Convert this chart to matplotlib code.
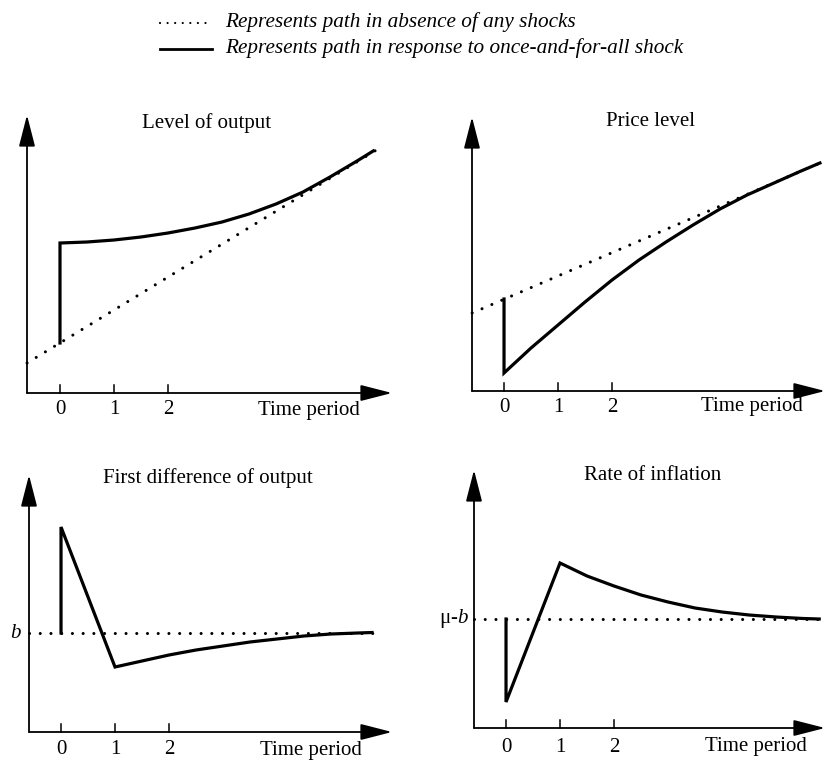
import matplotlib
matplotlib.use("Agg")
import matplotlib.pyplot as plt

plt.rcParams["font.family"] = ["Liberation Serif", "DejaVu Serif"]
plt.rcParams["mathtext.fontset"] = "custom"
plt.rcParams["mathtext.rm"] = "Liberation Serif"
plt.rcParams["mathtext.it"] = "Liberation Serif:italic"

W, H = 826, 760

# ---- data ----
tick_pos = [0, 1, 2]
tick_labels = ["0", "1", "2"]

# Level of output
lvl_trend_t = [-0.61, 5.89]
lvl_trend_y = [3.0, 24.4]
lvl_shock_t = [0, 0, 0.5, 1, 1.5, 2, 2.5, 3, 3.5, 4, 4.5, 5, 5.5, 5.8]
lvl_shock_y = [5.0, 15.0, 15.1, 15.3, 15.6, 16.0, 16.5, 17.1, 17.9, 18.9, 20.1, 21.6, 23.2, 24.2]

# Price level
price_trend_t = [-0.59, 5.85]
price_trend_y = [7.8, 22.8]
price_shock_t = [0, 0, 0.5, 1, 1.5, 2, 2.5, 3, 3.5, 4, 4.5, 5, 5.5, 5.85]
price_shock_y = [9.2, 1.8, 4.3, 6.6, 8.9, 11.1, 13.1, 14.9, 16.6, 18.2, 19.6, 20.8, 22.0, 22.8]

# First difference of output
diff_trend_t = [-0.59, 5.81]
diff_trend_y = [9.9, 9.9]
diff_shock_t = [0, 0, 1, 1.5, 2, 2.5, 3, 3.5, 4, 4.5, 5, 5.5, 5.76]
diff_shock_y = [9.9, 20.5, 6.5, 7.1, 7.7, 8.2, 8.6, 9.0, 9.3, 9.6, 9.8, 9.9, 9.95]

# Rate of inflation
infl_trend_t = [-0.59, 5.8]
infl_trend_y = [10.9, 10.9]
infl_shock_t = [0, 0, 1, 1.5, 2, 2.5, 3, 3.5, 4, 4.5, 5, 5.5, 5.8]
infl_shock_y = [10.9, 2.6, 16.5, 15.2, 14.2, 13.3, 12.6, 12.0, 11.6, 11.3, 11.1, 10.95, 10.9]

fig = plt.figure(figsize=(W / 100, H / 100), dpi=100)

dotted = dict(color="k", lw=2.2, linestyle=(0, (0.01, 3.5)), dash_capstyle="round")
solid = dict(color="k", lw=2.3, solid_joinstyle="miter")


def make_panel(box, xlim, ylim, title, title_y, label_y, tp_x):
    # box = left, top, right, bottom in pixels
    l, t, r, b = box
    ax = fig.add_axes([l / W, 1 - b / H, (r - l) / W, (b - t) / H])
    ax.set_xlim(xlim)
    ax.set_ylim(ylim)
    ax.axis("off")
    arrow = dict(arrowstyle="-|>,head_length=1.95,head_width=0.5", mutation_scale=10,
                 lw=1.3, color="k", shrinkA=0, shrinkB=0)
    ax.annotate("", xy=(0, 1), xytext=(0, 0), xycoords="axes fraction", arrowprops=arrow)
    ax.annotate("", xy=(1, 0), xytext=(0, 0), xycoords="axes fraction", arrowprops=arrow)
    for tp, tl in zip(tick_pos, tick_labels):
        ax.plot([tp, tp], [0, 0.8], color="k", lw=1.1, clip_on=False)
        ax.text(tp, label_y, tl, ha="center", va="center", fontsize=15)
    ax.text(tp_x, label_y, "Time period", ha="right", va="center", fontsize=15)
    ax.text(2.72, title_y, title, ha="center", va="center", fontsize=15)
    return ax


ax1 = make_panel((27, 115, 392, 393), (-0.611, 6.148), (0, 27.8), "Level of output", 27.0, -1.7, 5.56)
ax1.plot(lvl_trend_t, lvl_trend_y, **dotted, clip_on=False)
ax1.plot(lvl_shock_t, lvl_shock_y, **solid, clip_on=False)

ax2 = make_panel((472, 117, 825, 391), (-0.593, 5.944), (0, 27.4), "Price level", 26.9, -1.6, 5.54)
ax2.plot(price_trend_t, price_trend_y, **dotted, clip_on=False)
ax2.plot(price_shock_t, price_shock_y, **solid, clip_on=False)

ax3 = make_panel((29, 475, 392, 732), (-0.593, 6.13), (0, 25.7), "First difference of output", 25.4, -1.8, 5.57)
ax3.plot(diff_trend_t, diff_trend_y, **dotted, clip_on=False)
ax3.plot(diff_shock_t, diff_shock_y, **solid, clip_on=False)
ax3.text(-0.85, diff_trend_y[0], "b", style="italic", ha="center", va="center", fontsize=15)

ax4 = make_panel((474, 470, 825, 728), (-0.593, 5.907), (0, 25.8), "Rate of inflation", 25.3, -1.9, 5.57)
ax4.plot(infl_trend_t, infl_trend_y, **dotted, clip_on=False)
ax4.plot(infl_shock_t, infl_shock_y, **solid, clip_on=False)
ax4.text(-0.68, infl_trend_y[0], r"$\mathrm{\mu}$-$b$", ha="right", va="center", fontsize=15)

# legend on top, in pixel coordinates
lg = fig.add_axes([0, 0, 1, 1])
lg.set_xlim(0, W)
lg.set_ylim(H, 0)
lg.axis("off")
lg.plot([160, 212], [23, 23], color="k", lw=1.6, linestyle=(0, (0.01, 3.4)), dash_capstyle="round")
lg.plot([160, 212], [49, 49], color="k", lw=2.0)
lg.text(225, 22, "Represents path in absence of any shocks", style="italic",
        ha="left", va="center", fontsize=15.3)
lg.text(225, 48, "Represents path in response to once-and-for-all shock", style="italic",
        ha="left", va="center", fontsize=15.3)

fig.savefig("out.png", dpi=100)
